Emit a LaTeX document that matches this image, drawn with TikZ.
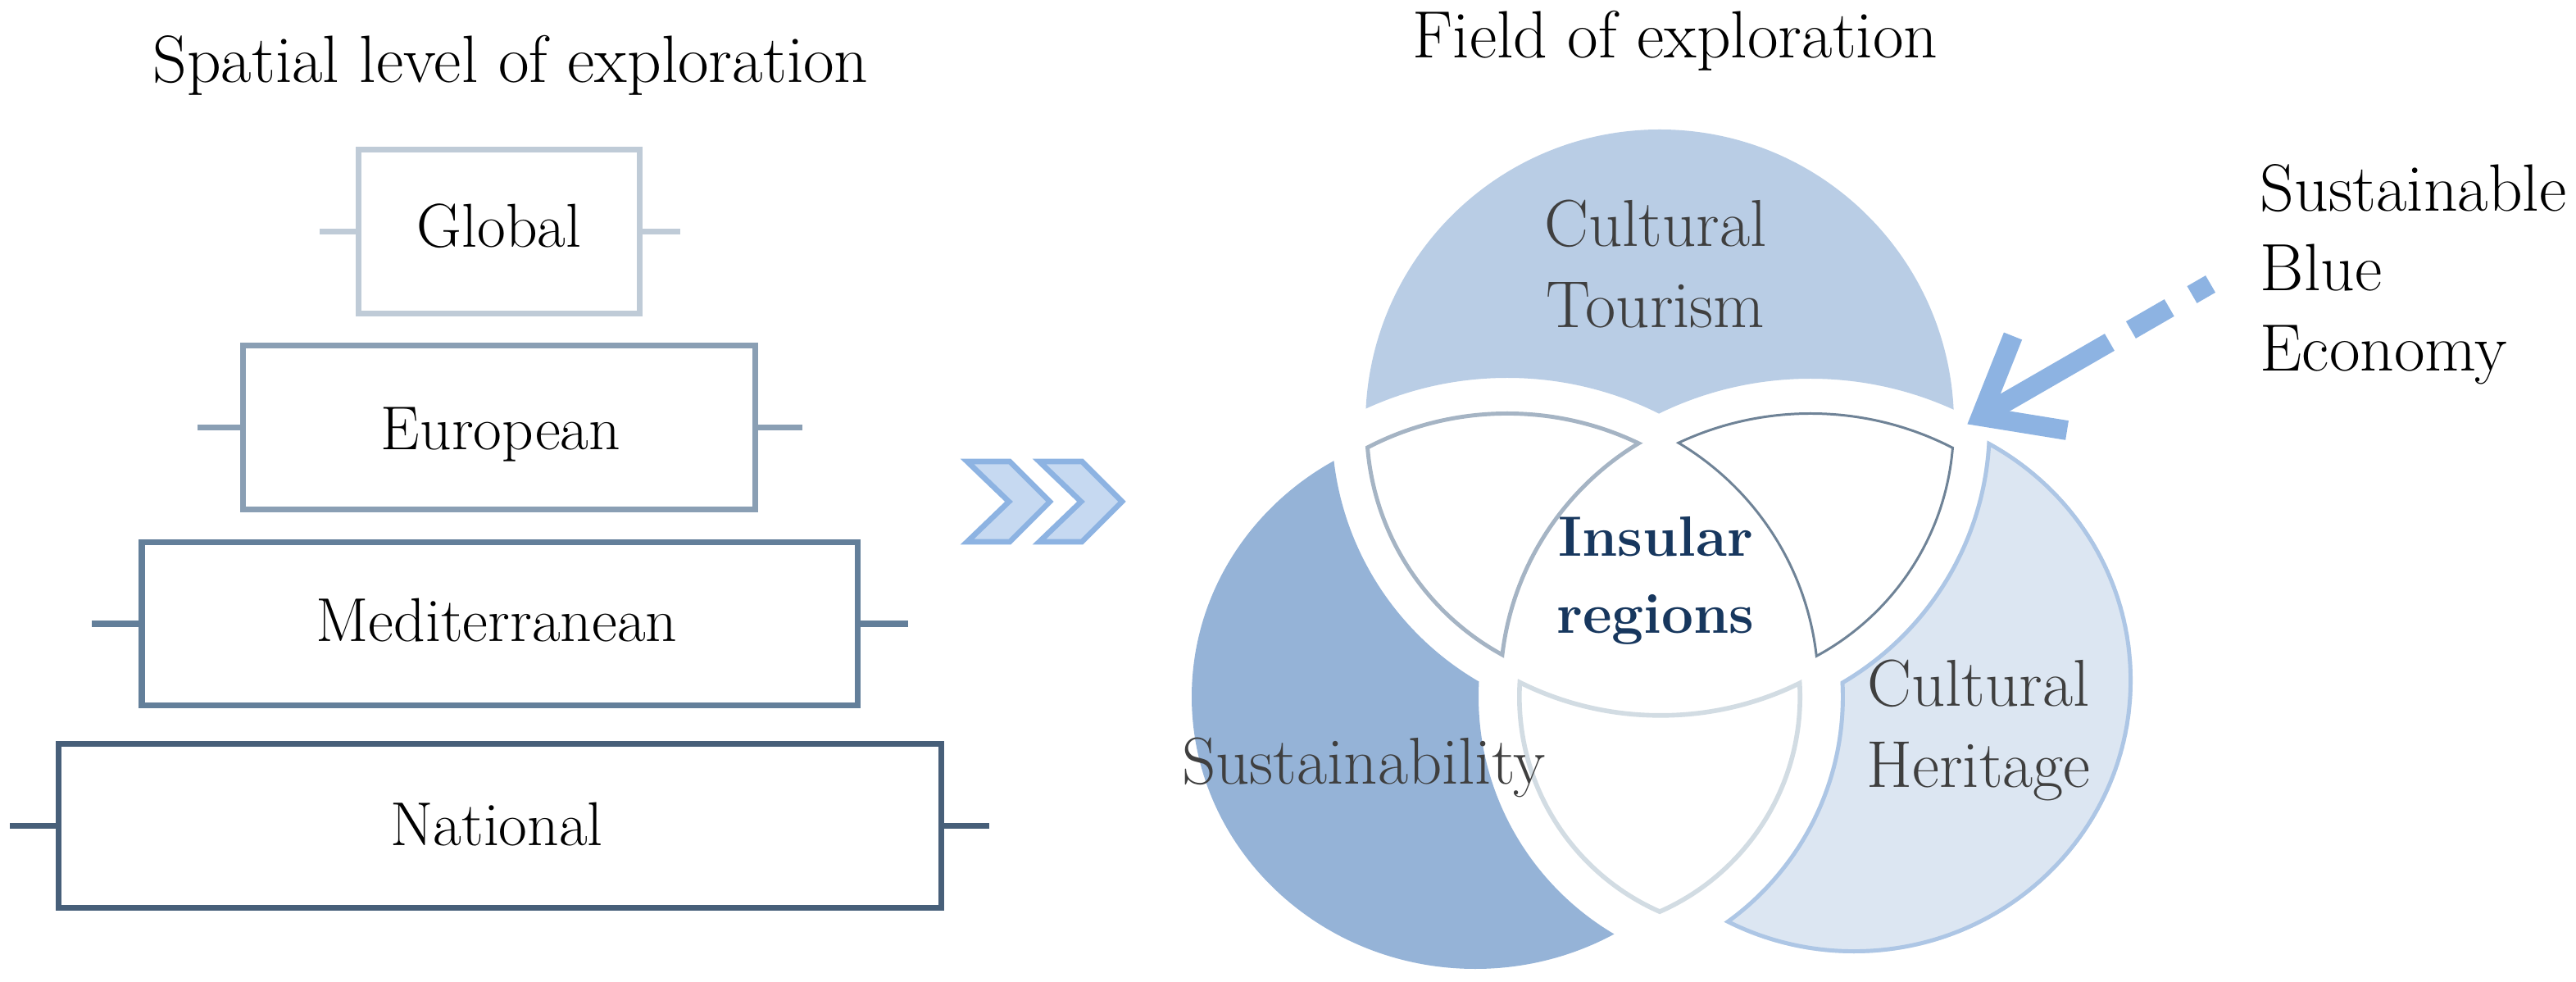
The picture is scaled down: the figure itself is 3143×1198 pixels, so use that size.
\documentclass[tikz,border=0pt]{standalone}
\usepackage{fontspec}
\usetikzlibrary{calc}
\definecolor{gBox}{HTML}{BFCBD7}
\definecolor{eBox}{HTML}{8A9FB4}
\definecolor{mBox}{HTML}{637F9A}
\definecolor{nBox}{HTML}{475F79}
\definecolor{chevFill}{HTML}{C6D9F1}
\definecolor{chevLine}{HTML}{8DB3E2}
\definecolor{tFill}{HTML}{B9CDE5}
\definecolor{lFill}{HTML}{95B3D7}
\definecolor{rFill}{HTML}{DCE6F2}
\definecolor{rLine}{HTML}{ADC6E5}
\definecolor{lensA}{HTML}{A5B4C4}
\definecolor{lensB}{HTML}{6F8397}
\definecolor{lensC}{HTML}{D2DCE3}
\definecolor{vennText}{HTML}{3F3F3F}
\definecolor{navy}{HTML}{17375E}
\definecolor{arrowBlue}{HTML}{8DB3E2}
% clip to the outside of a circle (rectangle clockwise, circle counter-clockwise)
\newcommand\clipOut[3]{\clip (0,0) -- (3143,0) -- (3143,-1198) -- (0,-1198) -- cycle ({#1+#3},{#2}) arc[start angle=0,end angle=360,radius=#3];}
\begin{document}
\begin{tikzpicture}[x=0.01cm,y=0.01cm,
  lbl/.style={inner sep=0pt, anchor=base},
  boxlbl/.style={lbl, font=\fontsize{21.5}{25}\selectfont},
  ttl/.style={lbl, font=\fontsize{23.2}{27}\selectfont},
  venn/.style={lbl, font=\fontsize{23}{27}\selectfont, text=vennText},
  core/.style={lbl, font=\bfseries\fontsize{19.7}{23}\selectfont, text=navy},
  levelbox/.style={draw, line width=2pt, minimum width=#1, minimum height=1.99cm, inner sep=0pt},
  tick/.style={line width=2pt},
  chev/.style={fill=chevFill, draw=chevLine, line width=1.9pt, line join=miter},
  arrowline/.style={draw=arrowBlue, line width=6.8pt}
]
\fill[white] (0,0) rectangle (3143,-1198);
\useasboundingbox (0,0) rectangle (3143,-1198);

% ---------- titles ----------
\node[ttl] (ttlSpatial) at (623,-101) {Spatial level of exploration};
\node[ttl] (ttlField) at (2044,-71) {Field of exploration};

% ---------- level boxes ----------
\node[levelbox=3.42cm, draw=gBox] (boxGlobal) at (609,-282.5) {};
\node[levelbox=6.255cm, draw=eBox] (boxEuro) at (609,-521.5) {};
\node[levelbox=8.725cm, draw=mBox] (boxMed) at (609.5,-761) {};
\node[levelbox=10.755cm, draw=nBox] (boxNat) at (610,-1007.5) {};

\draw[tick, draw=gBox] (boxGlobal.west) -- ++(-44,0);
\draw[tick, draw=gBox] (boxGlobal.east) -- ++(46,0);
\draw[tick, draw=eBox] (boxEuro.west) -- ++(-52,0);
\draw[tick, draw=eBox] (boxEuro.east) -- ++(54,0);
\draw[tick, draw=mBox] (boxMed.west) -- ++(-57,0);
\draw[tick, draw=mBox] (boxMed.east) -- ++(58,0);
\draw[tick, draw=nBox] (boxNat.west) -- ++(-56,0);
\draw[tick, draw=nBox] (boxNat.east) -- ++(55,0);

\node[boxlbl] (lblGlobal) at (609,-302) {Global};
\node[boxlbl] (lblEuro) at (611,-549) {European};
\node[boxlbl] (lblMed) at (606,-783) {Mediterranean};
\node[boxlbl] (lblNat) at (606,-1031) {National};

% ---------- chevrons ----------
\draw[chev] (1180,-563) -- (1232,-563) -- (1281,-612) -- (1232,-661) -- (1180,-661) -- (1231,-612) -- cycle;
\draw[chev] (1268,-563) -- (1320,-563) -- (1369,-612) -- (1320,-661) -- (1268,-661) -- (1319,-612) -- cycle;

% ---------- Venn: coloured parts ----------
\begin{scope}
  \clipOut{1839}{-875}{414}
  \clipOut{2209}{-884}{422}
  \fill[tFill] (2025,-517) circle[radius=359];
\end{scope}
\begin{scope}
  \clipOut{1985}{-520}{360}
  \clipOut{2140}{-850}{336}
  \fill[lFill] (1800,-850) ellipse[x radius=346, y radius=332];
\end{scope}
\begin{scope}
  \clipOut{2065}{-520}{360}
  \clipOut{1910}{-850}{336}
  \clip (2262,-830) ellipse[x radius=340, y radius=333];
  \fill[rFill] (2262,-830) ellipse[x radius=340, y radius=333];
  \draw[rLine, line width=2.8pt] (2262,-830) ellipse[x radius=340, y radius=333]
     (2065,-520) circle[radius=360] (1910,-850) circle[radius=336];
\end{scope}

% ---------- Venn: outlined overlaps ----------
\begin{scope}
  \clip (1839,-875) circle[radius=373];
  \clip (1985,-520) circle[radius=320];
  \clipOut{2180}{-840}{347}
  \draw[lensA, line width=2.8pt] (1839,-875) circle[radius=373]
     (1985,-520) circle[radius=320] (2180,-840) circle[radius=347];
\end{scope}
\begin{scope}
  \clip (2209,-884) circle[radius=381];
  \clip (2065,-520) circle[radius=320];
  \clipOut{1870}{-840}{347}
  \draw[lensB, line width=1.7pt] (2209,-884) circle[radius=381]
     (2065,-520) circle[radius=320] (1870,-840) circle[radius=347];
\end{scope}
\begin{scope}
  \clip (2140,-850) circle[radius=289];
  \clip (1910,-850) circle[radius=289];
  \clipOut{2026}{-488}{382}
  \draw[lensC, line width=3.2pt] (2140,-850) circle[radius=289]
     (1910,-850) circle[radius=289] (2026,-488) circle[radius=382];
\end{scope}

% ---------- Venn labels ----------
\node[venn] (vtCult) at (2020,-301) {Cultural};
\node[venn] (vtTour) at (2020,-400) {Tourism};
\node[core] (vIns) at (2020,-679) {Insular};
\node[core] (vReg) at (2020,-773) {regions};
\node[venn] (vSust) at (1664,-956) {Sustainability};
\node[venn] (vhCult) at (2414,-862) {Cultural};
\node[venn] (vhHer) at (2414,-960) {Heritage};

% ---------- Sustainable Blue Economy ----------
\node[ttl, anchor=base west] (sbe1) at (2757,-258) {Sustainable};
\node[ttl, anchor=base west] (sbe2) at (2757,-355) {Blue};
\node[ttl, anchor=base west] (sbe3) at (2757,-453) {Economy};

\coordinate (sbeTail) at (2697,-346.5);
\coordinate (sbeTip) at (2417,-508);
\coordinate (barbUp) at (2456,-410);
\coordinate (barbLow) at (2522,-525);
\draw[arrowline, dash pattern=on 0.26cm off 0.32cm on 0.54cm off 0.30cm on 3cm off 1cm] (sbeTail) -- (sbeTip);
\draw[arrowline, line join=miter] (barbUp) -- (sbeTip) -- (barbLow);
\end{tikzpicture}
\end{document}
